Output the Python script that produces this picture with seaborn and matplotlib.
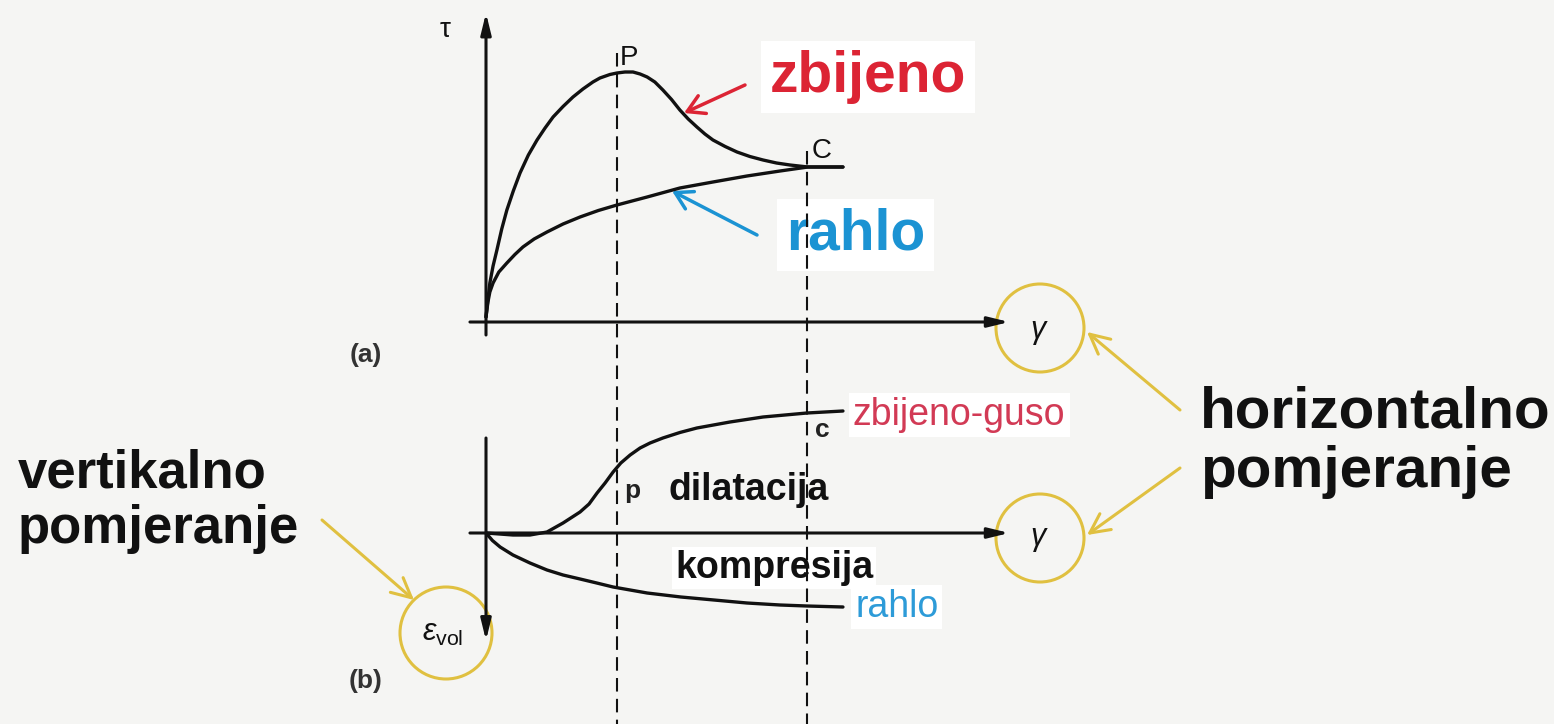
import numpy as np
import pandas as pd
import seaborn as sns
import matplotlib.pyplot as plt
from matplotlib.patches import Circle

# (a) shear stress tau against shear strain gamma
gamma_dense_a = [0.00, 0.06, 0.12, 0.22, 0.34, 0.49, 0.65, 0.85, 1.06, 1.32, 1.59,
                 1.84, 2.09, 2.40, 2.71, 3.02, 3.33, 3.55, 3.86, 4.08, 4.33, 4.58,
                 4.80, 5.02, 5.26, 5.51, 5.78, 6.04, 6.30, 6.57, 6.82, 7.07, 7.45,
                 7.82, 8.22, 8.63, 9.05, 9.47, 10.03, 11.12]
tau_dense = [0.20, 0.90, 1.56, 2.24, 2.88, 3.72, 4.48, 5.24, 5.96, 6.68, 7.28,
             7.76, 8.20, 8.62, 9.00, 9.32, 9.60, 9.76, 9.90, 9.96, 10.00, 10.00,
             9.92, 9.80, 9.60, 9.28, 8.90, 8.48, 8.12, 7.80, 7.52, 7.28, 7.02,
             6.80, 6.62, 6.48, 6.36, 6.28, 6.20, 6.20]
gamma_loose_a = [0.00, 0.03, 0.06, 0.12, 0.22, 0.40, 0.65, 0.90, 1.15, 1.50, 1.90,
                 2.40, 2.93, 3.50, 4.08, 5.02, 6.04, 7.07, 8.13, 9.16, 10.03, 11.12]
tau_loose = [0.20, 0.50, 0.80, 1.20, 1.56, 2.00, 2.36, 2.70, 3.00, 3.32, 3.60,
             3.92, 4.20, 4.46, 4.68, 5.00, 5.36, 5.60, 5.84, 6.04, 6.20, 6.20]

# (b) volumetric strain eps_vol against shear strain gamma
gamma_dense_b = [0.00, 0.84, 1.37, 1.90, 2.40, 2.93, 3.21, 3.46, 3.71, 3.96, 4.20,
                 4.49, 4.80, 5.11, 5.51, 6.04, 6.57, 7.60, 8.63, 10.00, 11.12]
eps_dense = [0.00, -0.08, -0.08, 0.04, 0.40, 0.84, 1.16, 1.60, 2.00, 2.44, 2.80,
             3.12, 3.40, 3.60, 3.80, 4.02, 4.20, 4.44, 4.64, 4.80, 4.88]
gamma_loose_b = [0.00, 0.20, 0.44, 0.84, 1.37, 1.90, 2.40, 2.93, 3.45, 3.96, 5.02,
                 6.07, 7.10, 8.13, 9.16, 10.00, 11.12]
eps_loose = [0.00, -0.30, -0.56, -0.88, -1.20, -1.48, -1.68, -1.84, -2.00, -2.16,
             -2.40, -2.56, -2.68, -2.80, -2.88, -2.92, -2.96]

gamma_peak = 4.08      # P
gamma_crit = 10.00     # C

# labels
lbl_dense = "zbijeno"
lbl_loose = "rahlo"
lbl_dense_b = "zbijeno-guso"
lbl_dil = "dilatacija"
lbl_comp = "kompresija"
lbl_vert = ["vertikalno", "pomjeranje"]
lbl_horiz = ["horizontalno", "pomjeranje"]

# ---------------------------------------------------------------- layout
W, H = 1554, 724
DPI = 100
G0, GS = 486, 32.1          # pixel of gamma = 0, pixels per gamma unit
T0, TS = 322, 25.0          # pixel row of tau = 0, pixels per tau unit
E0, ES = 533, 25.0          # pixel row of eps = 0, pixels per eps unit

BLACK = "#111111"
RED = "#dc2434"
BLUE = "#1b93d3"
RED_B = "#d23a55"
BLUE_B = "#2d9bd8"
GOLD = "#e0c040"
BG = "#f5f5f3"

sns.set_theme(style="white")
plt.rcParams["font.family"] = ["Liberation Sans", "DejaVu Sans"]
plt.rcParams["mathtext.fontset"] = "custom"
plt.rcParams["mathtext.rm"] = "Liberation Sans"
plt.rcParams["mathtext.it"] = "Liberation Sans:italic"

fig = plt.figure(figsize=(W / DPI, H / DPI), dpi=DPI, facecolor=BG)

# pixel-space layer for labels and call-outs
ax_bg = fig.add_axes([0, 0, 1, 1], zorder=0)
ax_bg.set_xlim(0, W)
ax_bg.set_ylim(H, 0)
ax_bg.axis("off")

xlim = (-G0 / GS, (W - G0) / GS)


def panel(z):
    ax = fig.add_axes([0, 0, 1, 1], zorder=z)
    ax.patch.set_alpha(0)
    return ax


ax_a = panel(1)
ax_b = panel(2)

curve_kw = dict(color=BLACK, linewidth=2.4, estimator=None, legend=False,
                solid_capstyle="round", solid_joinstyle="round")

df_a = pd.DataFrame({"gamma": gamma_dense_a, "tau": tau_dense})
sns.lineplot(data=df_a, x="gamma", y="tau", ax=ax_a, **curve_kw)
df_a2 = pd.DataFrame({"gamma": gamma_loose_a, "tau": tau_loose})
sns.lineplot(data=df_a2, x="gamma", y="tau", ax=ax_a, **curve_kw)

df_b = pd.DataFrame({"gamma": gamma_dense_b, "eps": eps_dense})
sns.lineplot(data=df_b, x="gamma", y="eps", ax=ax_b, **curve_kw)
df_b2 = pd.DataFrame({"gamma": gamma_loose_b, "eps": eps_loose})
sns.lineplot(data=df_b2, x="gamma", y="eps", ax=ax_b, **curve_kw)

for a in (ax_a, ax_b):
    a.set_xlim(*xlim)
    a.axis("off")
ax_a.set_ylim((T0 - H) / TS, T0 / TS)
ax_b.set_ylim((E0 - H) / ES, E0 / ES)

# dashed guides through P and C, running down to the bottom edge
y_bot = ax_a.get_ylim()[0]
dash = (0, (6.5, 3.5))
ax_a.plot([gamma_peak, gamma_peak], [10.76, y_bot], color=BLACK, lw=1.5, ls=dash)
ax_a.plot([gamma_crit, gamma_crit], [6.85, y_bot], color=BLACK, lw=1.5, ls=dash)

# coordinate axes with arrow heads
axis_arrow = dict(arrowstyle="-|>,head_length=0.9,head_width=0.22",
                  color=BLACK, lw=2.2, mutation_scale=14, shrinkA=0, shrinkB=0)
ax_a.annotate("", xy=(0, 12.36), xytext=(0, -0.52), arrowprops=axis_arrow)
ax_a.annotate("", xy=(16.3, 0), xytext=(-0.5, 0), arrowprops=axis_arrow)
ax_b.annotate("", xy=(0, -4.3), xytext=(0, 3.8), arrowprops=axis_arrow)
ax_b.annotate("", xy=(16.3, 0), xytext=(-0.5, 0), arrowprops=axis_arrow)

# ---------------------------------------------------------------- texts
small = dict(color=BLACK, fontsize=20)
ax_bg.text(445, 30, "τ", ha="center", va="center", **small)
ax_bg.text(620, 65, "P", ha="left", va="baseline", **small)
ax_bg.text(812, 158, "C", ha="left", va="baseline", **small)
ax_bg.text(624, 498, "p", ha="left", va="baseline", fontweight="bold",
           fontsize=19, color="#222222")
ax_bg.text(815, 437, "c", ha="left", va="baseline", fontweight="bold",
           fontsize=19, color="#222222")
ax_bg.text(366, 355, "(a)", ha="center", va="center", fontsize=19,
           fontweight="bold", color="#333333")
ax_bg.text(366, 681, "(b)", ha="center", va="center", fontsize=19,
           fontweight="bold", color="#333333")
ax_bg.text(1038, 330, "γ", ha="center", va="center", fontsize=22,
           style="italic", color=BLACK)
ax_bg.text(1038, 537, "γ", ha="center", va="center", fontsize=22,
           style="italic", color=BLACK)
ax_bg.text(443, 633, r"$\varepsilon_{\rm vol}$", ha="center", va="center",
           fontsize=22, color=BLACK)

white = dict(fc="white", ec="none", pad=6)
ax_bg.text(770, 92, lbl_dense, ha="left", va="baseline", fontsize=41,
           fontweight="bold", color=RED, bbox=white)
ax_bg.text(786, 250, lbl_loose, ha="left", va="baseline", fontsize=41,
           fontweight="bold", color=BLUE, bbox=white)
ax_bg.text(853, 425, lbl_dense_b, ha="left", va="baseline", fontsize=27,
           color=RED_B, bbox=dict(fc="white", ec="none", pad=3))
ax_bg.text(855, 617, lbl_loose, ha="left", va="baseline", fontsize=27,
           color=BLUE_B, bbox=dict(fc="white", ec="none", pad=3))
ax_bg.text(668, 500, lbl_dil, ha="left", va="baseline", fontsize=27,
           fontweight="bold", color=BLACK)
ax_bg.text(675, 578, lbl_comp, ha="left", va="baseline", fontsize=27,
           fontweight="bold", color=BLACK, bbox=dict(fc="white", ec="none", pad=2))

for txt, base in zip(lbl_vert, [487, 543]):
    ax_bg.text(18, base, txt, ha="left", va="baseline", fontsize=38,
               fontweight="bold", color=BLACK)
for txt, base in zip(lbl_horiz, [427, 487]):
    ax_bg.text(1200, base, txt, ha="left", va="baseline", fontsize=42,
               fontweight="bold", color=BLACK)

# ---------------------------------------------------------------- call-outs
for cx, cy, r in [(1040, 328, 44), (1040, 538, 44), (446, 633, 46)]:
    ax_bg.add_patch(Circle((cx, cy), r, fill=False, ec=GOLD, lw=2.2))

gold_arrow = dict(arrowstyle="->,head_length=0.7,head_width=0.35", color=GOLD,
                  lw=2.2, mutation_scale=20, shrinkA=0, shrinkB=0)
ax_bg.annotate("", xy=(1087, 332), xytext=(1180, 410), arrowprops=gold_arrow)
ax_bg.annotate("", xy=(1087, 535), xytext=(1180, 468), arrowprops=gold_arrow)
ax_bg.annotate("", xy=(414, 600), xytext=(322, 520), arrowprops=gold_arrow)

ax_bg.annotate("", xy=(684, 113), xytext=(745, 85),
               arrowprops=dict(arrowstyle="->,head_length=0.6,head_width=0.35",
                               color=RED, lw=2.5, mutation_scale=20,
                               shrinkA=0, shrinkB=0))
ax_bg.annotate("", xy=(672, 191), xytext=(757, 235),
               arrowprops=dict(arrowstyle="->,head_length=0.6,head_width=0.35",
                               color=BLUE, lw=2.5, mutation_scale=20,
                               shrinkA=0, shrinkB=0))

fig.savefig("out.png", dpi=DPI, facecolor=BG)
